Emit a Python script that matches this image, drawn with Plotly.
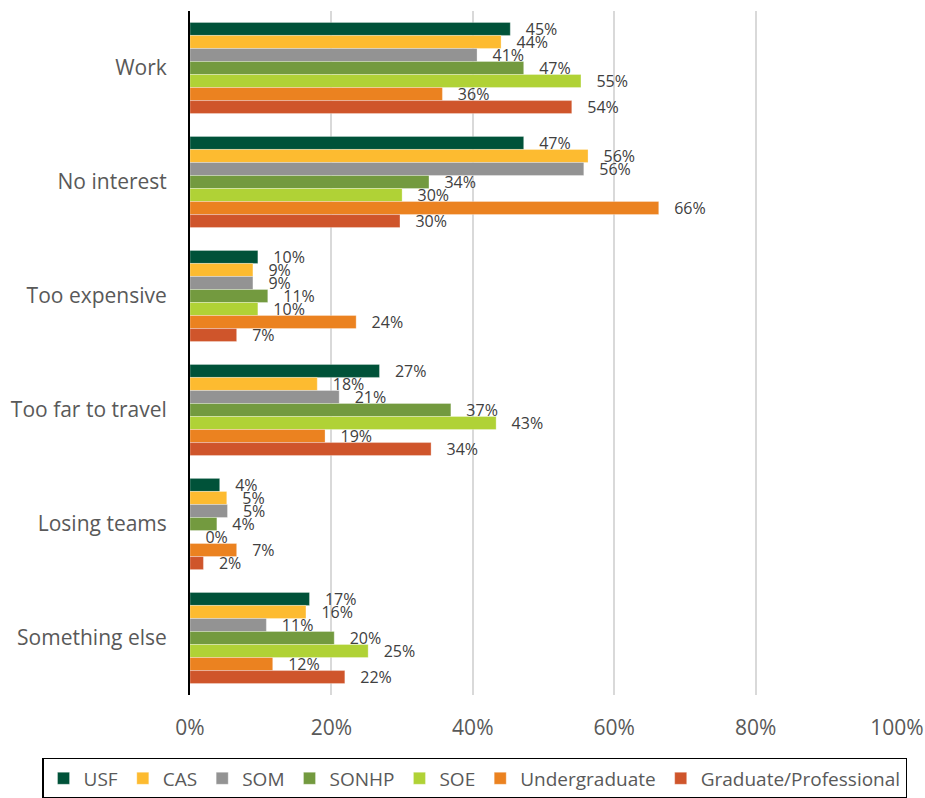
import plotly.graph_objects as go

categories = ["Work", "No interest", "Too expensive", "Too far to travel", "Losing teams", "Something else"]
series_names = ["USF", "CAS", "SOM", "SONHP", "SOE", "Undergraduate", "Graduate/Professional"]
usf = [45.3, 47.2, 9.6, 26.8, 4.2, 16.9]
cas = [44.0, 56.3, 8.9, 18.0, 5.2, 16.4]
som = [40.6, 55.7, 8.9, 21.1, 5.3, 10.8]
sonhp = [47.2, 33.8, 11.0, 36.9, 3.8, 20.4]
soe = [55.3, 30.0, 9.6, 43.3, 0.0, 25.2]
undergrad = [35.7, 66.3, 23.5, 19.1, 6.6, 11.7]
grad = [54.0, 29.7, 6.6, 34.1, 1.9, 21.9]
values = [usf, cas, som, sonhp, soe, undergrad, grad]
colors = ["#005239", "#FDBB30", "#939393", "#739A3F", "#B0D236", "#EB8220", "#CF552B"]

FONT = "'Open Sans', 'Noto Sans', 'Liberation Sans', Arial, sans-serif"

fig = go.Figure()
for name, vals, col in zip(series_names, values, colors):
    fig.add_trace(go.Bar(
        y=categories, x=vals, name=name, orientation="h",
        marker=dict(color=col, line=dict(color="rgba(255,255,255,0.6)", width=0.5)),
        text=["\u00a0\u00a0\u00a0" + f"{round(v):.0f}%" for v in vals],
        textposition="outside", cliponaxis=False, constraintext="none",
        textfont=dict(family=FONT, size=16, color="#404040"),
    ))

fig.update_layout(
    width=925, height=798,
    barmode="group", bargap=0.2, bargroupgap=0,
    plot_bgcolor="white", paper_bgcolor="white",
    margin=dict(l=190, r=28, t=11, b=103, autoexpand=False),
    font=dict(family=FONT, size=19, color="#595959"),
    xaxis=dict(range=[0, 100], tickvals=[0, 20, 40, 60, 80, 100],
               ticktext=["0%", "20%", "40%", "60%", "80%", "100%"],
               showgrid=True, gridcolor="#D9D9D9", gridwidth=2, zeroline=False,
               showline=False, ticks="", ticklabelstandoff=18, automargin=False,
               tickfont=dict(size=21, color="#595959")),
    yaxis=dict(autorange="reversed", showline=True, linecolor="black", linewidth=2,
               ticks="", ticklabelstandoff=17, automargin=False,
               tickfont=dict(size=21, color="#595959")),
    legend=dict(orientation="h", xref="paper", x=-0.2093, xanchor="left",
                yref="paper", y=-0.092, yanchor="top",
                bordercolor="black", borderwidth=1.5, font=dict(size=19, color="#595959"),
                traceorder="normal", itemwidth=30),
    showlegend=True,
)

fig.write_html("out.html", config={"displayModeBar": False},
               post_script="document.body.style.margin='0';document.body.style.overflow='hidden';")
